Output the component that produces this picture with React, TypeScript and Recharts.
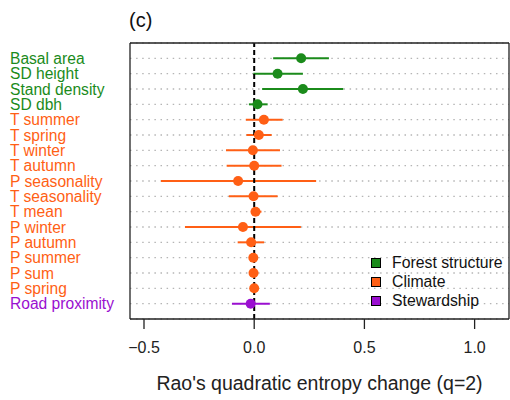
import React from 'react';
import {
  ScatterChart,
  Scatter,
  ErrorBar,
  XAxis,
  YAxis,
  CartesianGrid,
  ReferenceLine,
} from 'recharts';

// Variables, top to bottom
const labels = [
  'Basal area', 'SD height', 'Stand density', 'SD dbh',
  'T summer', 'T spring', 'T winter', 'T autumn',
  'P seasonality', 'T seasonality', 'T mean', 'P winter',
  'P autumn', 'P summer', 'P sum', 'P spring',
  'Road proximity',
];
const groups = [
  'forest', 'forest', 'forest', 'forest',
  'climate', 'climate', 'climate', 'climate',
  'climate', 'climate', 'climate', 'climate',
  'climate', 'climate', 'climate', 'climate',
  'stewardship',
];
const estimates = [0.213, 0.106, 0.221, 0.015, 0.044, 0.021, -0.006, 0.0, -0.073, -0.003, 0.006, -0.051, -0.014, -0.004, -0.003, 0.0, -0.016];
const lower = [0.086, -0.004, 0.036, -0.024, -0.038, -0.035, -0.128, -0.125, -0.423, -0.115, -0.015, -0.314, -0.075, -0.02, -0.015, -0.012, -0.101];
const upper = [0.339, 0.221, 0.404, 0.061, 0.129, 0.079, 0.117, 0.124, 0.281, 0.106, 0.033, 0.212, 0.045, 0.012, 0.01, 0.015, 0.071];

const groupKeys = ['forest', 'climate', 'stewardship'];
const groupNames = ['Forest structure', 'Climate', 'Stewardship'];
const xTicks = [-0.5, 0, 0.5, 1];

const COLORS: Record<string, string> = {
  forest: '#1B8B1B',
  climate: '#FF5F15',
  stewardship: '#9A0FD0',
};

const FONT = 'Liberation Sans, Arial, sans-serif';

const rows = labels.map((label, i) => ({
  label,
  group: groups[i],
  x: estimates[i],
  y: i + 1,
  err: [estimates[i] - lower[i], upper[i] - estimates[i]],
}));

const LabelTick = (props: any) => {
  const { y, payload } = props;
  const i = payload.value - 1;
  if (i < 0 || i >= labels.length) return null;
  return (
    <text x={10} y={y} dy={5.6} textAnchor="start" fontSize={15.6} fontFamily={FONT} fill={COLORS[groups[i]]}>
      {labels[i]}
    </text>
  );
};

const LegendBox = () => (
  <div style={{ position: 'absolute', left: 371, top: 253, fontFamily: FONT, fontSize: 15.8, color: '#111' }}>
    {groupKeys.map((g, i) => (
      <div key={g} style={{ display: 'flex', alignItems: 'center', height: 19.3 }}>
        <span style={{ width: 8, height: 8, background: COLORS[g], border: '1.5px solid #000', marginRight: 11 }} />
        <span>{groupNames[i]}</span>
      </div>
    ))}
  </div>
);

export default function App() {
  return (
    <div style={{ position: 'absolute', left: 0, top: 0, width: 510, height: 400, background: '#fff' }}>
      <div style={{ position: 'absolute', left: 129, top: 9, fontFamily: FONT, fontSize: 20, color: '#111' }}>(c)</div>
      <ScatterChart width={510} height={400} margin={{ top: 42, right: 0, left: 10, bottom: 0 }}>
        <CartesianGrid horizontal vertical={false} stroke="#b5b5b5" strokeWidth={1.3} strokeDasharray="1.5 4.6" />
        <XAxis
          type="number"
          dataKey="x"
          domain={[-0.5635, 1.156]}
          allowDataOverflow
          ticks={xTicks}
          tickFormatter={(v: number) => (v < 0 ? '\u2212' : '') + Math.abs(v).toFixed(1)}
          height={81}
          tickSize={10}
          tickMargin={13}
          stroke="#222"
          strokeWidth={1.3}
          tick={{ fontSize: 16, fontFamily: FONT, fill: '#222' }}
          label={{ value: "Rao's quadratic entropy change (q=2)", position: 'insideBottom', offset: 10, fontSize: 19.5, fontFamily: FONT, fill: '#222' }}
        />
        <XAxis xAxisId="top" orientation="top" type="number" domain={[-0.5635, 1.156]} height={1} tick={false} tickLine={false} stroke="#222" strokeWidth={1.3} />
        <YAxis
          type="number"
          dataKey="y"
          domain={[0, 18]}
          reversed
          ticks={labels.map((_, i) => i + 1)}
          interval={0}
          width={120}
          tickLine={false}
          tick={<LabelTick />}
          stroke="#222"
          strokeWidth={1.3}
        />
        <YAxis yAxisId="right" orientation="right" type="number" domain={[0, 18]} width={1} tick={false} tickLine={false} stroke="#222" strokeWidth={1.3} />
        {groupKeys.map((g) => (
          <Scatter
            key={g}
            name={g}
            data={rows.filter((r) => r.group === g)}
            isAnimationActive={false}
            shape={(p: any) => <circle cx={p.cx} cy={p.cy} r={5} fill={COLORS[g]} />}
          >
            <ErrorBar dataKey="err" direction="x" width={0} stroke={COLORS[g]} strokeWidth={2} isAnimationActive={false} />
          </Scatter>
        ))}
        <ReferenceLine x={0} stroke="#000" strokeWidth={2} strokeDasharray="5 3" />
      </ScatterChart>
      <LegendBox />
    </div>
  );
}
